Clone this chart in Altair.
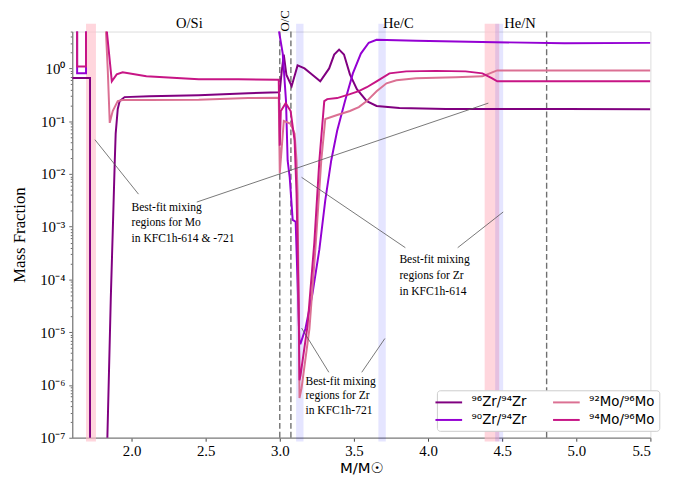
import altair as alt
import pandas as pd

# ---------------- data ----------------
names = ["⁹⁶Zr/⁹⁴Zr", "⁹⁰Zr/⁹⁴Zr", "⁹²Mo/⁹⁶Mo", "⁹⁴Mo/⁹⁶Mo"]
colors = ["#800080", "#9400D3", "#DB7093", "#C71585"]

m_zr96 = [1.6, 1.72, 1.72, 1.837, 1.86, 1.873, 1.887, 1.893, 1.907, 1.92, 1.953, 2.12, 2.453, 2.787,
          2.993, 3.0, 3.013, 3.027, 3.045, 3.08, 3.12, 3.167, 3.207, 3.273, 3.333, 3.367, 3.40, 3.433,
          3.473, 3.52, 3.587, 3.653, 3.807, 4.12, 4.92, 5.5]
v_zr96 = [0.66, 0.66, 1e-9, 1e-7, 4.3e-5, 7.7e-4, 0.018, 0.058, 0.17, 0.24, 0.286, 0.298, 0.311, 0.34,
          0.355, 0.37, 0.88, 1.83, 0.75, 0.46, 1.14, 1.0, 0.806, 0.57, 1.0, 1.83, 2.27, 1.83,
          0.771, 0.404, 0.24, 0.194, 0.178, 0.17, 0.17, 0.168]

m_zr90 = [1.6, 1.633, 1.633, 1.693, 1.693, 2.98, 2.993, 3.02, 3.042, 3.053, 3.067, 3.087, 3.107, 3.113,
          3.133, 3.14, 3.173, 3.22, 3.267, 3.307, 3.347, 3.387, 3.44, 3.493, 3.547, 3.60, 3.653, 3.92,
          4.453, 4.92, 5.5]
v_zr90 = [50, 50, 0.806, 0.806, 50, 50, 5.4, 1.91, 0.24, 0.018, 0.0086, 0.00135, 0.00124, 3.7e-4,
          6.1e-6, 6.1e-6, 1.16e-5, 5.3e-5, 3.7e-4, 3.2e-3, 0.018, 0.066, 0.24, 0.806, 1.91, 3.07, 3.5, 3.35,
          3.14, 3.01, 3.05]

m_mo92 = [1.6, 1.822, 1.827, 1.84, 1.853, 1.873, 1.907, 1.94, 2.12, 2.453, 2.787, 2.993, 3.0, 3.027,
          3.073, 3.10, 3.113, 3.12, 3.133, 3.147, 3.20, 3.24, 3.28, 3.307, 3.387, 3.473, 3.533, 3.587,
          3.653, 3.72, 3.787, 3.92, 4.187, 4.367, 4.433, 4.467, 5.5]
v_mo92 = [50, 50, 5.2, 0.88, 0.093, 0.156, 0.24, 0.251, 0.251, 0.256, 0.274, 0.277, 0.0103, 0.101,
          0.089, 0.058, 0.018, 0.0043, 5.65e-7, 8.7e-7, 1.16e-5, 3.7e-4, 0.018, 0.11, 0.131, 0.156, 0.185, 0.24,
          0.37, 0.523, 0.596, 0.649, 0.678, 0.708, 0.841, 0.917, 0.917]

m_mo94 = [1.6, 1.633, 1.633, 1.693, 1.693, 1.827, 1.833, 1.847, 1.867, 1.90, 1.94, 2.10, 2.453, 2.72,
          2.993, 3.0, 3.007, 3.04, 3.073, 3.10, 3.113, 3.127, 3.133, 3.14, 3.187, 3.233, 3.267, 3.30,
          3.32, 3.387, 3.473, 3.533, 3.587, 3.653, 3.74, 3.853, 4.053, 4.253, 4.367, 4.433, 4.467, 5.5]
v_mo94 = [50, 50, 1.09, 1.09, 50, 50, 5.2, 2.08, 0.57, 0.771, 0.841, 0.708, 0.622, 0.622,
          0.61, 0.0344, 0.156, 0.22, 0.156, 0.0427, 0.0043, 4.3e-5, 1.23e-6, 1.53e-6, 1.32e-5, 5.0e-4, 0.018, 0.24,
          0.262, 0.274, 0.325, 0.37, 0.44, 0.57, 0.806, 0.879, 0.898, 0.879, 0.806, 0.649, 0.57, 0.57]

# shaded mixing regions
pink_lo = [1.693, 4.382]
pink_hi = [1.76, 4.48]
blue_lo = [3.11, 3.665, 4.453]
blue_hi = [3.16, 3.715, 4.507]
band_top = 7.0
band_bottom = 8.5e-8

# dashed zone boundaries
dash_x = [3.0, 3.075, 4.8]

# zone labels
zone_text = ["O/Si", "He/C", "He/N"]
zone_m = [2.39, 3.8, 4.62]
zone_f = [5.9, 5.9, 5.9]

# annotation leader lines
ln_x1 = [1.753, 2.44, 3.147, 4.2, 3.331, 3.553]
ln_y1 = [0.0446, 0.00293, 0.00863, 4.0e-4, 1.74e-6, 1.74e-6]
ln_x2 = [2.047, 4.407, 3.847, 4.507, 3.147, 3.709]
ln_y2 = [0.00414, 0.22, 4.0e-4, 0.0019, 1.2e-5, 7.6e-6]

# annotation texts
ann_lines = ["Best-fit mixing", "regions for Mo", "in KFC1h-614 & -721",
             "Best-fit mixing", "regions for Zr", "in KFC1h-614",
             "Best-fit mixing", "regions for Zr", "in KFC1h-721"]
ann_m = [2.0, 2.0, 2.0, 3.807, 3.807, 3.807, 3.173, 3.173, 3.173]
ann_f = [0.00236, 0.00124, 6.2e-4, 2.4e-4, 1.2e-4, 6.0e-5, 1.18e-6, 6.4e-7, 3.37e-7]

x_ticks = [2.0, 2.5, 3.0, 3.5, 4.0, 4.5, 5.0, 5.5]
y_labels = ["10⁻⁷", "10⁻⁶", "10⁻⁵", "10⁻⁴", "10⁻³", "10⁻²", "10⁻¹", "10⁰"]

# ---------------- build tables ----------------
rows = []
for name, ms, vs in zip(names, [m_zr96, m_zr90, m_mo92, m_mo94], [v_zr96, v_zr90, v_mo92, v_mo94]):
    for i, (m, v) in enumerate(zip(ms, vs)):
        rows.append({"series": name, "M": m, "F": v, "i": i})
curves = pd.DataFrame(rows)

pink = pd.DataFrame({"M": pink_lo, "M2": pink_hi, "F": [band_top] * 2, "F2": [band_bottom] * 2})
blue = pd.DataFrame({"M": blue_lo, "M2": blue_hi, "F": [band_top] * 3, "F2": [band_bottom] * 3})
dashes = pd.DataFrame({"M": dash_x, "F": [5] * len(dash_x), "F2": [1e-7] * len(dash_x)})
zones = pd.DataFrame({"t": zone_text, "M": zone_m, "F": zone_f})
oc = pd.DataFrame({"t": ["O/C"], "M": [3.037], "F": [7.95]})
leaders = pd.DataFrame({"M": ln_x1, "F": ln_y1, "M2": ln_x2, "F2": ln_y2})
ann = pd.DataFrame({"t": ann_lines, "M": ann_m, "F": ann_f})

# ---------------- scales / axes ----------------
W, H = 585, 411
xs = alt.Scale(domain=[1.6, 5.5], nice=False, zero=False)
ys = alt.Scale(type="log", domain=[1e-7, 5], nice=False)

y_vals = []
for k in range(-7, 1):
    for d in range(1, 10):
        v = d * 10.0 ** k
        if v <= 5.0001:
            y_vals.append(float(f"{v:.3g}"))

is_major = "abs(log(datum.value)/LN10 - round(log(datum.value)/LN10)) < 0.01"
lab_arr = "[" + ",".join("'" + s + "'" for s in y_labels) + "]"

GRAY = "#808080"
xaxis = alt.Axis(values=x_ticks, format=".1f", title="M/M☉", grid=False,
                 labelFont="Liberation Serif", labelFontSize=15, labelColor="black",
                 tickColor="#444444", tickSize=3.5, tickWidth=1, domainColor=GRAY, domainWidth=1.3,
                 labelPadding=2, titleFont="DejaVu Sans", titleFontSize=15, titleFontWeight="normal",
                 titleColor="black", titleY=30, titleBaseline="middle")
yaxis = alt.Axis(values=y_vals, grid=False, title="Mass Fraction",
                 labelExpr=f"{is_major} ? {lab_arr}[round(log(datum.value)/LN10)+7] : ''",
                 labelFont="Liberation Serif", labelFontSize=15, labelColor="black",
                 labelPadding=4, labelBaseline="middle",
                 tickColor="#444444", tickWidth=0.8,
                 tickSize={"condition": {"test": is_major, "value": 3.5}, "value": 2},
                 domainColor=GRAY, domainWidth=1.3,
                 titleFont="Liberation Serif", titleFontSize=17, titleFontWeight="normal",
                 titleColor="black", titleX=-53, titleY=H / 2, titleAngle=270,
                 titleAlign="center", titleBaseline="middle")

X = alt.X("M:Q", scale=xs, axis=xaxis)
Y = alt.Y("F:Q", scale=ys, axis=yaxis)

pink_layer = alt.Chart(pink).mark_rect(clip=False, color="#FFC0CB", opacity=0.65).encode(
    x=X, x2="M2:Q", y=Y, y2="F2:Q")
blue_layer = alt.Chart(blue).mark_rect(clip=False, color="#0000FF", opacity=0.1).encode(
    x=X, x2="M2:Q", y=Y, y2="F2:Q")

dash_layer = alt.Chart(dashes).mark_rule(color="#707070", strokeDash=[6, 3], strokeWidth=1.4).encode(
    x=X, y=Y, y2="F2:Q")

curve_layer = alt.Chart(curves).mark_line(clip=True, strokeWidth=2).encode(
    x=X, y=Y,
    color=alt.Color("series:N",
                    scale=alt.Scale(domain=names, range=colors),
                    legend=alt.Legend(orient="none", legendX=369, legendY=363, columns=2, title=None,
                                      symbolType="M-2,0H2", symbolSize=182, symbolStrokeWidth=2,
                                      labelFont="DejaVu Sans", labelFontSize=13.5, labelColor="black",
                                      strokeColor="#cccccc", fillColor="white", padding=4,
                                      cornerRadius=3, rowPadding=3, columnPadding=22, labelOffset=15)),
    order="i:Q",
)

leader_layer = alt.Chart(leaders).mark_rule(color="#555555", strokeWidth=0.8).encode(
    x=X, y=Y, x2="M2:Q", y2="F2:Q")

ann_layer = alt.Chart(ann).mark_text(align="left", baseline="middle", font="Liberation Serif",
                                     fontSize=11.7, color="black").encode(x=X, y=Y, text="t:N")

zone_layer = alt.Chart(zones).mark_text(align="center", baseline="alphabetic", font="Liberation Serif",
                                        fontSize=14.7, color="black", clip=False).encode(x=X, y=Y, text="t:N")

oc_layer = alt.Chart(oc).mark_text(align="center", baseline="middle", angle=270, font="Liberation Serif",
                                   fontSize=13, color="black", clip=False).encode(x=X, y=Y, text="t:N")

chart = alt.layer(pink_layer, blue_layer, dash_layer, curve_layer, leader_layer, ann_layer,
                  zone_layer, oc_layer).properties(
    width=W, height=H,
    autosize=alt.AutoSizeParams(type="none"),
    padding={"left": 65, "top": 21, "right": 34, "bottom": 45},
).configure_view(stroke=GRAY, strokeWidth=1.3).configure(background="white")

chart.save("out.html", embed_options={"renderer": "svg", "actions": False})
